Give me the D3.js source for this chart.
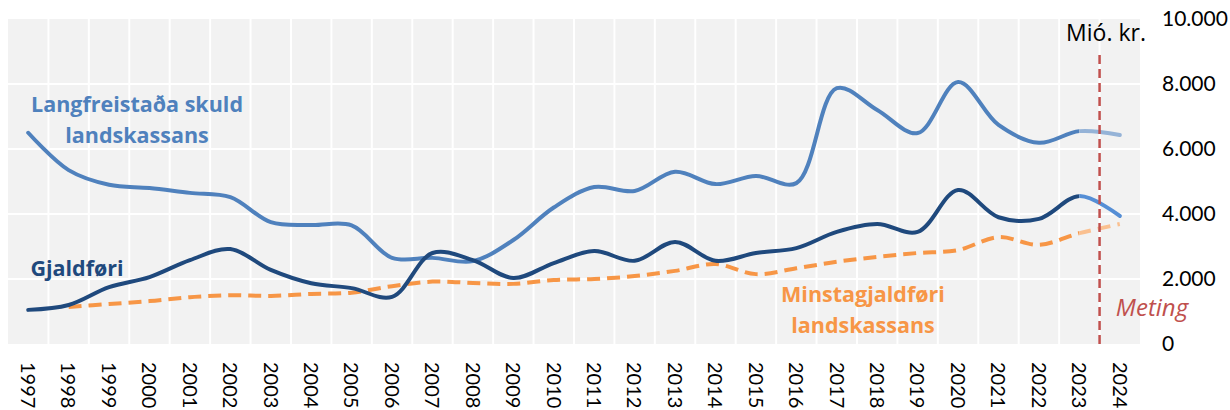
<!DOCTYPE html>
<html>
<head>
<meta charset="utf-8">
<script src="https://cdn.jsdelivr.net/npm/d3@7"></script>
<style>
  body { margin: 0; background: #fff; }
  svg { display: block; font-family: Lato, "Noto Sans", sans-serif; }
</style>
</head>
<body>
<svg id="chart" width="1230" height="410"></svg>
<script>
const years = ['1997','1998','1999','2000','2001','2002','2003','2004','2005','2006','2007','2008','2009','2010',
  '2011','2012','2013','2014','2015','2016','2017','2018','2019','2020','2021','2022','2023','2024'];
// Mió. kr.
const skuld = [6500, 5350, 4900, 4800, 4650, 4520, 3750, 3660, 3650, 2650, 2650, 2550, 3200, 4200,
  4830, 4710, 5300, 4920, 5170, 4950, 7870, 7200, 6490, 8060, 6740, 6190, 6550, 6430];
const gjaldfori = [1050, 1200, 1750, 2060, 2580, 2920, 2280, 1870, 1720, 1450, 2800, 2580, 2030, 2490,
  2860, 2560, 3140, 2560, 2800, 2950, 3450, 3690, 3450, 4740, 3900, 3850, 4550, 3940];
const minsta = [null, 1140, 1230, 1320, 1440, 1500, 1480, 1540, 1580, 1780, 1920, 1880, 1850, 1970,
  2000, 2090, 2250, 2460, 2150, 2330, 2530, 2680, 2800, 2890, 3290, 3050, 3410, 3690];
const yTicks = [0, 2000, 4000, 6000, 8000, 10000];
const forecastFrom = '2023';

const svg = d3.select('#chart');
const plot = { left: 8, right: 1140, top: 19, bottom: 344 };

const x = d3.scaleBand().domain(years).range([plot.left, plot.right]);
const y = d3.scaleLinear().domain([0, 10000]).range([plot.bottom, plot.top]);
const cx = d => x(d) + x.bandwidth() / 2;

const loc = d3.formatLocale({ decimal: ',', thousands: '.', grouping: [3], currency: ['', ''] });
const fmt = loc.format(',d');

// plot background
svg.append('rect')
  .attr('x', plot.left).attr('y', plot.top)
  .attr('width', plot.right - plot.left).attr('height', plot.bottom - plot.top)
  .attr('fill', '#f2f2f2');

// grid
svg.append('g').selectAll('line').data(yTicks.slice(1, -1)).join('line')
  .attr('x1', plot.left).attr('x2', plot.right)
  .attr('y1', d => y(d)).attr('y2', d => y(d))
  .attr('stroke', '#fff').attr('stroke-width', 2);
svg.append('g').selectAll('line').data(years.slice(1)).join('line')
  .attr('x1', d => x(d)).attr('x2', d => x(d))
  .attr('y1', plot.top).attr('y2', plot.bottom)
  .attr('stroke', '#fff').attr('stroke-width', 2);

// right axis
const yAxis = svg.append('g')
  .attr('transform', `translate(${plot.right},0)`)
  .call(d3.axisRight(y).tickValues(yTicks).tickSize(0).tickPadding(22).tickFormat(fmt));
yAxis.select('.domain').remove();
yAxis.selectAll('text').attr('font-size', 21).attr('fill', '#000').attr('font-family', 'Lato, sans-serif');

// x labels, rotated
svg.append('g').selectAll('text').data(years).join('text')
  .attr('transform', d => `translate(${cx(d)},362) rotate(90)`)
  .attr('dy', '0.36em')
  .attr('font-size', 20)
  .attr('fill', '#000')
  .text(d => d);

// clip for forecast part
const defs = svg.append('defs');
defs.append('clipPath').attr('id', 'past')
  .append('rect').attr('x', 0).attr('y', 0).attr('width', cx(forecastFrom)).attr('height', 410);
defs.append('clipPath').attr('id', 'future')
  .append('rect').attr('x', cx(forecastFrom)).attr('y', 0).attr('width', 400).attr('height', 410);

const line = d3.line()
  .defined(d => d[1] != null)
  .x(d => cx(d[0]))
  .y(d => y(d[1]))
  .curve(d3.curveCatmullRom.alpha(0.5));

const series = [
  { vals: minsta, color: '#f79646', light: '#fac090', dash: '13,7' },
  { vals: skuld, color: '#4f81bd', light: '#95b3d7', dash: null },
  { vals: gjaldfori, color: '#1f497d', light: '#558ed5', dash: null }
];

series.forEach(s => {
  const pts = years.map((yr, i) => [yr, s.vals[i]]);
  ['past', 'future'].forEach(part => {
    svg.append('path')
      .datum(pts)
      .attr('clip-path', `url(#${part})`)
      .attr('fill', 'none')
      .attr('stroke', part === 'past' ? s.color : s.light)
      .attr('stroke-width', 4)
      .attr('stroke-linecap', s.dash ? 'butt' : 'round')
      .attr('stroke-dasharray', s.dash)
      .attr('d', line);
  });
});

// forecast marker
const mx = x(forecastFrom) + x.bandwidth();
svg.append('line')
  .attr('x1', mx).attr('x2', mx).attr('y1', 55).attr('y2', plot.bottom)
  .attr('stroke', '#c0504d').attr('stroke-width', 2.5).attr('stroke-dasharray', '9,5');

// annotations
const ann = svg.append('g').attr('font-family', '"Open Sans", sans-serif')
  .attr('font-weight', 'bold').attr('font-size', 21.5).attr('text-anchor', 'middle');
ann.append('text').attr('x', 137).attr('y', 112).attr('fill', '#4f81bd').text('Langfreistaða skuld');
ann.append('text').attr('x', 137).attr('y', 143).attr('fill', '#4f81bd').text('landskassans');
ann.append('text').attr('x', 77).attr('y', 276).attr('fill', '#1f497d').text('Gjaldføri');
ann.append('text').attr('x', 863).attr('y', 302).attr('fill', '#f79646').text('Minstagjaldføri');
ann.append('text').attr('x', 863).attr('y', 333).attr('fill', '#f79646').text('landskassans');

svg.append('text').attr('x', 1106).attr('y', 41).attr('text-anchor', 'middle')
  .attr('font-family', '"Open Sans", sans-serif')
  .attr('font-size', 23).attr('fill', '#000').text('Mió. kr.');
svg.append('text').attr('x', 1152).attr('y', 316).attr('text-anchor', 'middle')
  .attr('font-family', '"Open Sans", sans-serif')
  .attr('font-size', 24).attr('font-style', 'italic').attr('fill', '#c0504d').text('Meting');
</script>
</body>
</html>
